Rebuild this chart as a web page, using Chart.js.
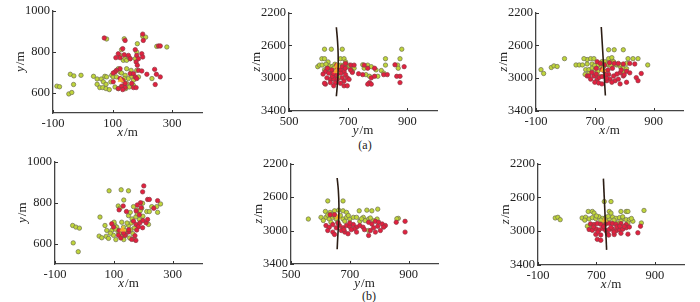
<!DOCTYPE html>
<html>
<head>
<meta charset="utf-8">
<script src="https://cdn.jsdelivr.net/npm/chart.js@4"></script>
<style>
  body { margin: 0; background: #fff; }
  #wrap { position: relative; width: 700px; height: 302px; overflow: hidden; }
  canvas { position: absolute; }
  .cap { position: absolute; font: 12px "Liberation Serif", serif; color: #222; transform: translate(-50%, -50%); }
</style>
</head>
<body>
<div id="wrap">
  <div class="cap" style="left:365px; top:145px">(a)</div>
  <div class="cap" style="left:369px; top:296px">(b)</div>
</div>
<script>
// tick values and labels
const planXTicks = [-100, 100, 300]
const planYTicks = [600, 800, 1000]
const depthTicks = [2200, 2600, 3000, 3400]
const northTicks = [500, 700, 900]
const northLabels = ["500", "700", "900"]
const eastTicks = [500, 700, 900]
const eastLabels = ["-100", "700", "900"]

// (a) plan view x / y
const a1GreenX = [-87,-78,-47,-37,-42,-30,-31,-6,36,48,62,48,57,74,80,69,78,67,78,89,80,97,102,94,108,119,125,130,113,136,142,147,125,130,139,153,159,147,162,142,153,164,170,136,144,156,170,183,181,201,211,248,282,176,181,187,232,119,139,147]
const a1GreenY = [631,628,593,600,689,681,639,684,679,666,666,640,624,679,676,652,640,624,619,614,861,684,676,652,627,619,700,695,676,757,765,757,781,809,862,773,765,716,708,684,668,679,660,631,619,627,635,838,797,875,870,825,822,765,708,676,668,716,668,644]
const a1RedX = [72,142,201,203,254,260,134,119,139,153,125,111,176,181,198,201,187,179,183,159,125,113,108,102,102,125,134,142,130,142,159,170,176,181,164,170,179,187,198,215,241,247,260,243,119,134]
const a1RedY = [866,854,885,854,827,827,814,789,784,781,770,770,809,781,789,773,765,749,733,765,716,708,700,695,652,668,660,644,631,624,692,692,676,668,644,624,624,708,705,689,713,689,676,639,619,614]
const a1StarX = [127]
const a1StarY = [660]

// (a) section y / z
const a2GreenX = [620,643,597,603,611,620,632,620,638,646,651,640,628,674,686,691,674,697,703,709,720,714,680,646,661,749,766,778,754,760,772,800,794,812,826,826,867,869,881,875,820,668,612,625,655,668,685,705]
const a2GreenZ = [2647,2647,2860,2841,2763,2763,2802,2899,2853,2860,2879,2918,2879,2763,2763,2802,2841,2860,2841,2879,2879,2918,2647,2957,2996,2837,2841,2860,2879,2957,2977,2977,2899,2907,2763,2841,2841,2879,2647,2763,2938,2996,2840,2830,2830,2850,2840,2850]
const a2RedX = [623,634,628,640,651,623,640,657,663,646,674,686,691,680,697,686,703,709,720,714,691,680,674,686,697,651,735,749,754,766,778,772,766,778,789,789,820,832,858,864,875,875,889,620,661,663,630,645,660,675,690,708,615,650]
const a2RedZ = [2918,2938,2996,3015,3007,3073,3054,3054,3015,2977,2899,2918,2957,2996,2996,3035,3015,2841,2841,2930,2821,2860,3062,3093,3093,3093,2946,2957,2841,2879,2996,3054,3073,3073,2977,2879,2957,2957,2837,2977,2977,3054,2860,3062,2841,2879,2880,2900,2960,2940,2880,2900,2950,2940]
const a2WellX = [660,664,666,666,664,660]
const a2WellZ = [2380,2550,2700,2900,3050,3220]
const a2StarX = [662,660]
const a2StarZ = [2850,2915]

// (a) section x / z
const a3GreenX = [517,526,552,561,572,597,636,647,658,674,691,674,686,663,697,669,680,691,702,710,719,724,735,747,758,764,747,766,797,747,758,774,786,797,808,813,830,847,880,667,680,713,808,797,700,712,730,740,755,770,785]
const a3GreenZ = [2896,2943,2870,2850,2858,2762,2839,2839,2839,2827,2827,2773,2762,2762,2762,2896,2896,2877,2896,2916,2858,2800,2800,2839,2781,2800,2654,2654,2654,2762,2750,2839,2858,2877,2820,2762,2762,2762,2839,2954,2943,2973,2885,2927,2845,2835,2860,2830,2845,2830,2835]
const a3RedX = [708,719,733,750,766,780,797,819,836,674,686,680,697,708,700,713,724,747,752,741,764,769,780,786,797,758,786,808,841,847,858,808,819,724,733,690,705,715,738,745,760,775,790,800,705,725,740]
const a3RedZ = [2800,2820,2839,2812,2820,2820,2827,2820,2827,2973,3012,2973,2973,3012,3050,3058,3070,2954,3012,3031,2973,3031,3012,2935,2973,3050,3070,3050,2993,3031,2943,2916,2935,2896,2916,2930,2950,2990,2960,2900,2880,2950,2900,2960,2880,2980,3000]
const a3WellX = [722,736]
const a3WellZ = [2377,3212]
const a3StarX = [728]
const a3StarZ = [2900]

// (b) plan view x / y
const b1GreenX = [-40,-29,-17,-38,-21,53,50,59,70,76,74,82,84,125,150,93,99,107,104,115,127,133,138,127,134,115,121,134,150,156,162,150,158,165,154,167,167,178,184,195,198,212,221,229,246,259,249,218,199,187,170,101,110,88,120,145,160,175,140,105,180,190]
const b1GreenY = [688,680,675,603,560,729,636,628,688,664,635,625,857,862,857,664,640,619,688,656,704,680,664,635,619,783,772,812,736,752,720,688,667,648,627,622,780,764,748,772,796,756,756,780,780,793,752,693,733,717,676,704,680,650,650,700,700,730,640,670,745,760]
const b1RedX = [202,198,215,221,249,236,191,180,193,176,187,118,132,143,167,176,184,178,198,189,210,172,93,99,116,124,138,150,175,161,118,133,151,199,215]
const b1RedY = [881,852,815,815,809,772,799,788,775,759,740,764,783,756,709,693,682,666,677,701,701,638,696,680,640,627,640,656,615,620,664,651,667,712,717]
const b1StarX = [130]
const b1StarY = [668]

// (b) section y / z
const b2GreenX = [559,602,625,677,617,633,648,662,677,689,619,630,642,654,665,677,689,700,636,659,683,732,758,775,795,712,723,746,764,781,793,734,752,865,860,764,625,640,668,695,740,770,610,650]
const b2GreenZ = [2863,2843,2647,2647,2772,2784,2765,2757,2765,2784,2843,2863,2843,2863,2835,2863,2843,2863,2902,2902,2890,2765,2757,2765,2745,2843,2843,2843,2863,2882,2863,2890,2882,2855,2860,3000,2815,2810,2820,2820,2860,2850,2880,2830]
const b2RedX = [619,630,642,654,625,642,648,665,677,689,700,683,694,671,712,723,734,723,764,775,787,798,810,821,781,770,787,804,764,858,888,888,633,648,660,700,715,745,750,795,815,680,705]
const b2RedZ = [2941,2961,2929,2968,3000,3019,3047,2941,2968,2941,2953,3019,3039,3000,2929,2961,2941,3019,2902,2922,2890,2902,2922,2941,2968,3000,3019,3000,3059,2902,2890,3019,2812,2812,2910,2910,2980,2960,2990,2950,2960,2990,2990]
const b2WellX = [657,661,663,662,659,657]
const b2WellZ = [2373,2520,2700,2900,3080,3223]
const b2StarX = [660]
const b2StarZ = [2840]

// (b) section x / z
const b3GreenX = [559,568,576,651,663,675,686,698,709,721,732,744,755,767,779,790,802,813,825,672,686,692,727,750,744,750,784,802,808,863,854,669,680,686,773,784,808,721,732,700,715,740,760,790,820,660]
const b3GreenZ = [2844,2836,2864,2844,2835,2855,2840,2852,2830,2850,2838,2855,2832,2848,2840,2852,2864,2864,2883,2767,2767,2786,2650,2650,2767,2786,2767,2767,2767,2755,2903,2941,2922,2961,2903,2883,2903,2903,2883,2820,2870,2825,2870,2830,2850,2870]
const b3RedX = [680,692,703,715,732,744,755,767,784,802,675,686,698,709,721,732,744,755,767,779,790,802,813,698,715,738,761,784,808,703,715,842,851,742,690,725,750,770,795,705,760,780]
const b3RedZ = [2914,2922,2910,2918,2914,2906,2910,2918,2910,2922,2980,2990,2972,2985,2968,2992,2980,2975,2996,2985,2978,2960,2950,3038,3045,3030,3040,3025,3035,3097,3108,3019,2941,3046,2950,2945,2955,2950,2945,3010,3010,2940]
const b3WellX = [724,735]
const b3WellZ = [2379,3221]
const b3StarX = [728]
const b3StarZ = [2870]

const FONT = '"Liberation Serif", "DejaVu Serif", serif'
Chart.defaults.font.family = FONT
Chart.defaults.font.size = 12.5
Chart.defaults.color = "#222"

function pts(xs, ys) {
    return xs.map((x, i) => ({ x: x, y: ys[i] }))
}

// draws inward tick marks and the "x/m" style axis names
const axisDecor = {
    id: "axisDecor",
    afterDraw(chart, args, opts) {
        const ctx = chart.ctx
        const a = chart.chartArea
        const sx = chart.scales.x
        const sy = chart.scales.y
        ctx.save()
        ctx.strokeStyle = "#333"
        ctx.lineWidth = 1
        ctx.beginPath()
        sx.ticks.forEach(t => {
            const p = Math.round(sx.getPixelForValue(t.value)) + 0.5
            ctx.moveTo(p, a.bottom)
            ctx.lineTo(p, a.bottom - 3)
        })
        sy.ticks.forEach(t => {
            const p = Math.round(sy.getPixelForValue(t.value)) + 0.5
            ctx.moveTo(a.left, p)
            ctx.lineTo(a.left + 3, p)
        })
        ctx.stroke()

        drawName(ctx, opts.xName, (a.left + a.right) / 2, a.bottom + 20, 0)
        drawName(ctx, opts.yName, a.left - 32, (a.top + a.bottom) / 2, -Math.PI / 2)
        ctx.restore()
    }
}

function drawName(ctx, letter, cx, cy, rot) {
    ctx.save()
    ctx.translate(cx, cy)
    ctx.rotate(rot)
    ctx.fillStyle = "#222"
    ctx.textBaseline = "middle"
    ctx.font = "italic 13px " + FONT
    const w1 = ctx.measureText(letter).width
    ctx.font = "13px " + FONT
    const w2 = ctx.measureText("/m").width
    const start = -(w1 + w2 + 1) / 2
    ctx.font = "italic 13px " + FONT
    ctx.fillText(letter, start, 0)
    ctx.font = "13px " + FONT
    ctx.fillText("/m", start + w1 + 1, 0)
    ctx.restore()
}

function scaleOpts(min, max, ticks, labels, reverse, isY) {
    return {
        type: "linear",
        min: min,
        max: max,
        reverse: reverse,
        grid: { display: false, drawTicks: false },
        border: { display: true, color: "#444", width: 1.3 },
        afterBuildTicks: (s) => { s.ticks = ticks.map(v => ({ value: v })) },
        afterFit: (s) => {
            if (isY) s.width = 40
            else s.height = 30
        },
        ticks: {
            padding: 3,
            callback: (v) => {
                const i = ticks.indexOf(v)
                return i >= 0 ? labels[i] : ""
            }
        }
    }
}

function makePanel(p) {
    const wrap = document.getElementById("wrap")
    const canvas = document.createElement("canvas")
    const w = p.R - p.L + 62
    const h = p.B - p.T + 50
    canvas.width = w
    canvas.height = h
    canvas.style.left = (p.L - 50) + "px"
    canvas.style.top = (p.T - 10) + "px"
    canvas.style.width = w + "px"
    canvas.style.height = h + "px"
    wrap.appendChild(canvas)

    const datasets = []
    if (p.well) {
        datasets.push({
            data: pts(p.well[0], p.well[1]),
            showLine: true,
            borderColor: "#2b1d14",
            borderWidth: 1.6,
            pointRadius: 0,
            tension: 0.4,
            order: 0
        })
    }
    datasets.push({
        data: pts(p.star[0], p.star[1]),
        pointStyle: "triangle",
        pointRadius: 3.2,
        backgroundColor: "#f6a623",
        borderColor: "#f6c040",
        borderWidth: 0.5,
        order: 1
    })
    datasets.push({
        data: pts(p.red[0], p.red[1]),
        pointRadius: 2.2,
        backgroundColor: "#e3203f",
        borderColor: "#8c3a44",
        borderWidth: 0.7,
        order: 2
    })
    datasets.push({
        data: pts(p.green[0], p.green[1]),
        pointRadius: 2.2,
        backgroundColor: "#bfd53a",
        borderColor: "#6e6e52",
        borderWidth: 0.7,
        order: 3
    })

    new Chart(canvas, {
        type: "scatter",
        data: { datasets: datasets },
        options: {
            responsive: false,
            animation: false,
            devicePixelRatio: 1,
            layout: { padding: { left: 10, top: 10, right: 12, bottom: 10 } },
            plugins: {
                legend: { display: false },
                tooltip: { enabled: false },
                axisDecor: { xName: p.xName, yName: p.yName }
            },
            scales: {
                x: scaleOpts(p.xMin, p.xMax, p.xTicks, p.xLabels, false, false),
                y: scaleOpts(p.yMin, p.yMax, p.yTicks, p.yTicks.map(String), p.rev, true)
            }
        },
        plugins: [axisDecor]
    })
}

const panels = [
    { L: 53, R: 202, T: 10, B: 113, xMin: -100, xMax: 400, yMin: 500, yMax: 1000, xTicks: planXTicks, xLabels: planXTicks.map(String), yTicks: planYTicks, rev: false, xName: "x", yName: "y", green: [a1GreenX, a1GreenY], red: [a1RedX, a1RedY], star: [a1StarX, a1StarY] },
    { L: 289, R: 437, T: 12, B: 111, xMin: 500, xMax: 1000, yMin: 2200, yMax: 3400, xTicks: northTicks, xLabels: northLabels, yTicks: depthTicks, rev: true, xName: "y", yName: "z", green: [a2GreenX, a2GreenZ], red: [a2RedX, a2RedZ], well: [a2WellX, a2WellZ], star: [a2StarX, a2StarZ] },
    { L: 536, R: 683, T: 12, B: 111, xMin: 500, xMax: 1000, yMin: 2200, yMax: 3400, xTicks: eastTicks, xLabels: eastLabels, yTicks: depthTicks, rev: true, xName: "x", yName: "z", green: [a3GreenX, a3GreenZ], red: [a3RedX, a3RedZ], well: [a3WellX, a3WellZ], star: [a3StarX, a3StarZ] },
    { L: 55, R: 202, T: 161, B: 264, xMin: -100, xMax: 400, yMin: 500, yMax: 1000, xTicks: planXTicks, xLabels: planXTicks.map(String), yTicks: planYTicks, rev: false, xName: "x", yName: "y", green: [b1GreenX, b1GreenY], red: [b1RedX, b1RedY], star: [b1StarX, b1StarY] },
    { L: 291, R: 438, T: 163, B: 264, xMin: 500, xMax: 1000, yMin: 2200, yMax: 3400, xTicks: northTicks, xLabels: northLabels, yTicks: depthTicks, rev: true, xName: "y", yName: "z", green: [b2GreenX, b2GreenZ], red: [b2RedX, b2RedZ], well: [b2WellX, b2WellZ], star: [b2StarX, b2StarZ] },
    { L: 538, R: 684, T: 163, B: 265, xMin: 500, xMax: 1000, yMin: 2200, yMax: 3400, xTicks: eastTicks, xLabels: eastLabels, yTicks: depthTicks, rev: true, xName: "x", yName: "z", green: [b3GreenX, b3GreenZ], red: [b3RedX, b3RedZ], well: [b3WellX, b3WellZ], star: [b3StarX, b3StarZ] }
]

panels.forEach(makePanel)
</script>
</body>
</html>
